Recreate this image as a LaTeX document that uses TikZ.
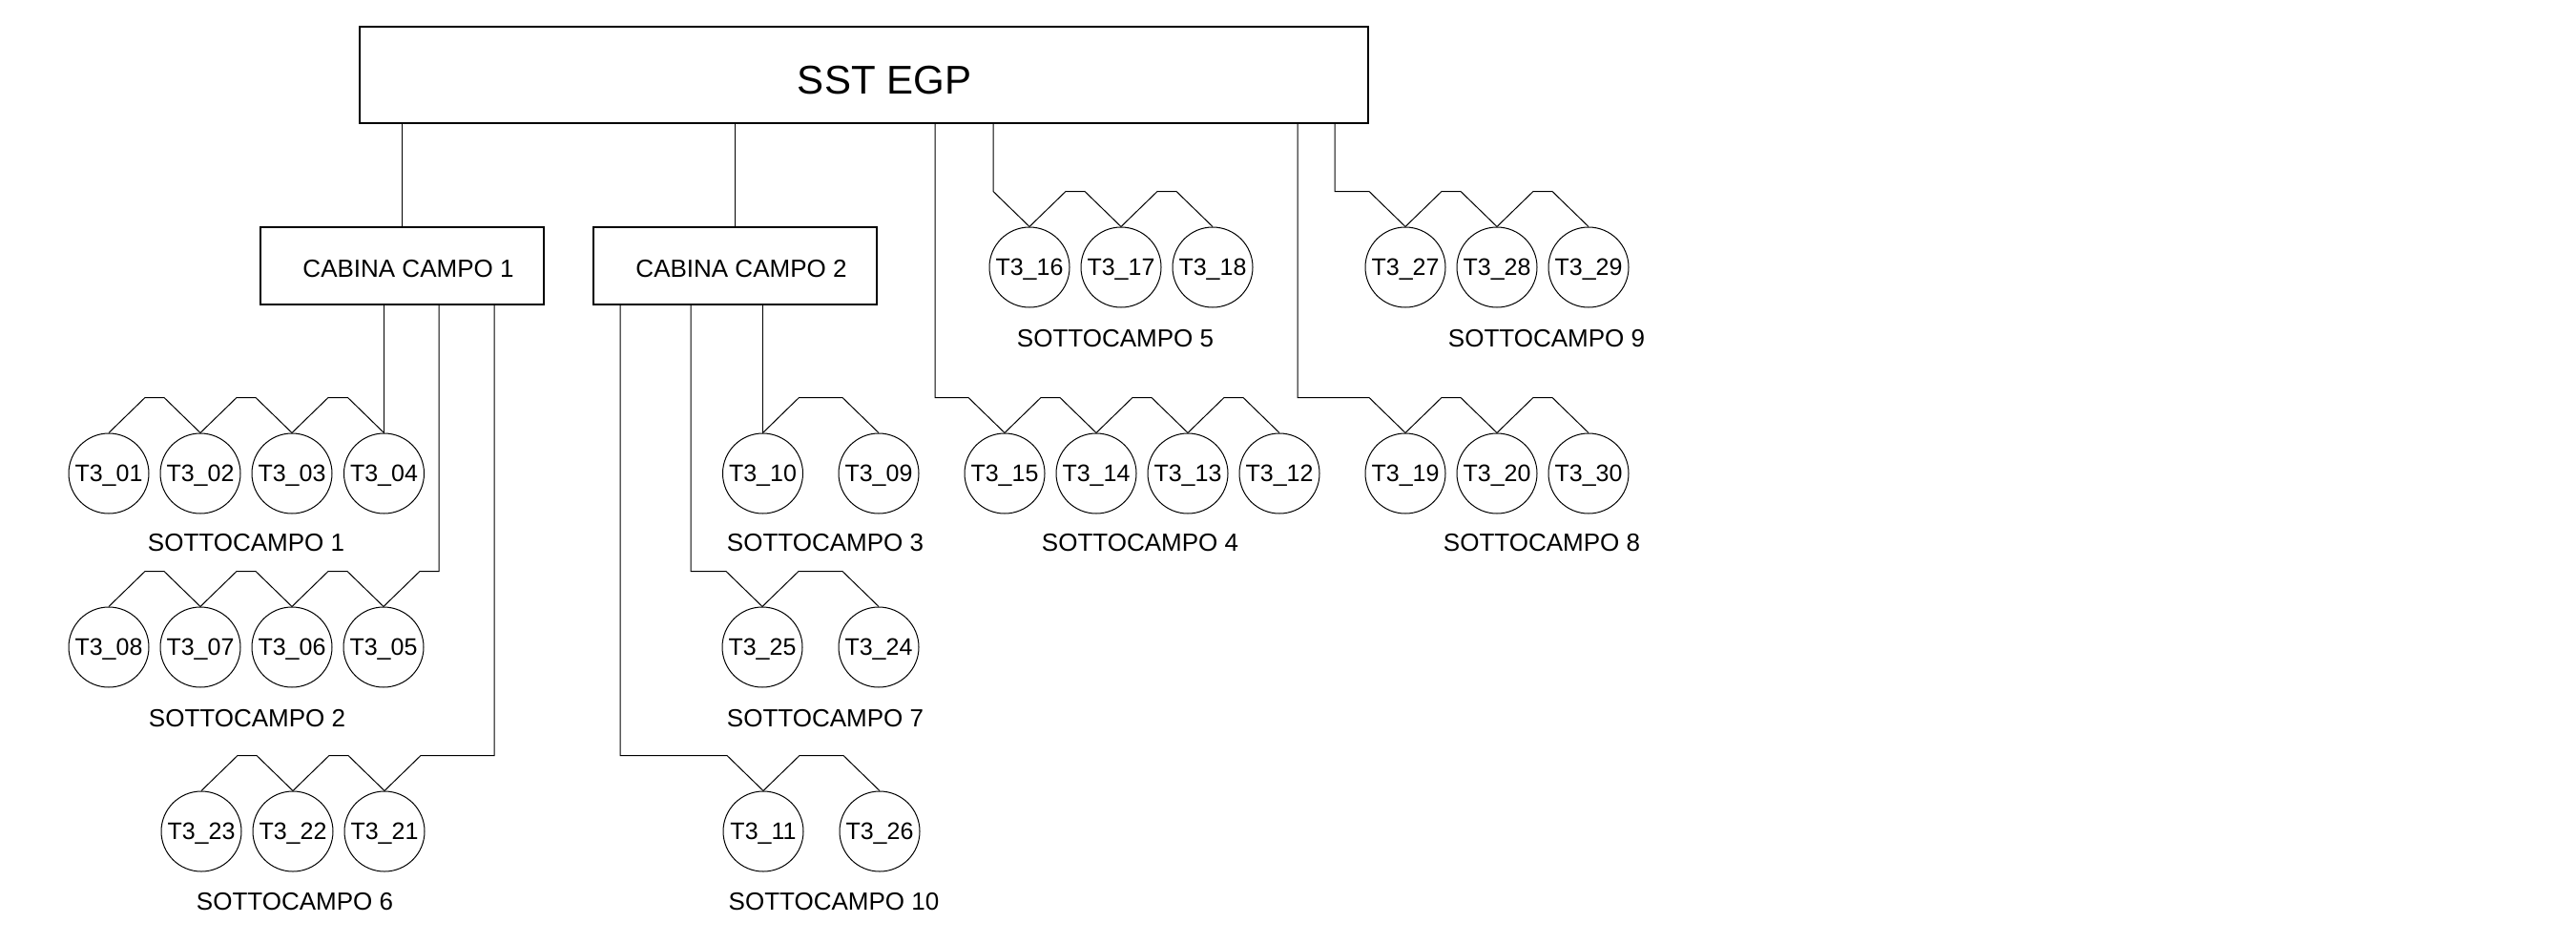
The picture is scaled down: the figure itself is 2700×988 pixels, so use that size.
\documentclass[tikz,border=0pt]{standalone}
\usepackage{fontspec}
\setmainfont{Liberation Sans}
\usetikzlibrary{calc}
\newcommand\zigz[2]{\draw (#1.north) -- ++(38,-37) -- ($(#2.north)+(-38,-37)$) -- (#2.north);}
\begin{document}
\begin{tikzpicture}[x=1pt,y=-1pt,line width=1pt,
  tcirc/.style={draw,circle,minimum size=84pt,inner sep=0pt,font=\fontsize{25}{30}\selectfont,text height=17.9pt,text depth=0pt},
  lbl/.style={inner sep=0pt,font=\fontsize{26}{30}\selectfont,text height=18.6pt,text depth=0pt},
  cab/.style={draw,rectangle,line width=1.3pt,minimum width=297pt,minimum height=81pt,inner sep=0pt,font=\fontsize{26}{30}\selectfont,text height=23.6pt,text depth=0pt},
  mainbox/.style={draw,rectangle,line width=1.3pt,minimum width=1057pt,minimum height=101pt,inner sep=0pt,font=\fontsize{42}{48}\selectfont,text height=39pt,text depth=0pt}]
\useasboundingbox (0,0) rectangle (2700,988);
% boxes
\node[mainbox] (sst) at (905.5,78.5) {\hspace*{43pt}SST EGP};
\node[cab] (c1) at (421.5,278.5) {\hspace*{13pt}CABINA CAMPO 1};
\node[cab] (c2) at (770.5,278.5) {\hspace*{13pt}CABINA CAMPO 2};
% row A
\node[tcirc] (t16) at (1079,280) {T3\_16};
\node[tcirc] (t17) at (1175,280) {T3\_17};
\node[tcirc] (t18) at (1271,280) {T3\_18};
\node[tcirc] (t27) at (1473,280) {T3\_27};
\node[tcirc] (t28) at (1569,280) {T3\_28};
\node[tcirc] (t29) at (1665,280) {T3\_29};
% row B
\node[tcirc] (t01) at (114,496) {T3\_01};
\node[tcirc] (t02) at (210,496) {T3\_02};
\node[tcirc] (t03) at (306,496) {T3\_03};
\node[tcirc] (t04) at (402.5,496) {T3\_04};
\node[tcirc] (t10) at (799.5,496) {T3\_10};
\node[tcirc] (t09) at (921,496) {T3\_09};
\node[tcirc] (t15) at (1053,496) {T3\_15};
\node[tcirc] (t14) at (1149,496) {T3\_14};
\node[tcirc] (t13) at (1245,496) {T3\_13};
\node[tcirc] (t12) at (1341,496) {T3\_12};
\node[tcirc] (t19) at (1473,496) {T3\_19};
\node[tcirc] (t20) at (1569,496) {T3\_20};
\node[tcirc] (t30) at (1665,496) {T3\_30};
% row C
\node[tcirc] (t08) at (114,678) {T3\_08};
\node[tcirc] (t07) at (210,678) {T3\_07};
\node[tcirc] (t06) at (306,678) {T3\_06};
\node[tcirc] (t05) at (402,678) {T3\_05};
\node[tcirc] (t25) at (799,678) {T3\_25};
\node[tcirc] (t24) at (921,678) {T3\_24};
% row D
\node[tcirc] (t23) at (211,871) {T3\_23};
\node[tcirc] (t22) at (307,871) {T3\_22};
\node[tcirc] (t21) at (403,871) {T3\_21};
\node[tcirc] (t11) at (800,871) {T3\_11};
\node[tcirc] (t26) at (922,871) {T3\_26};
% labels
\node[lbl] (s5) at (1169,354) {SOTTOCAMPO 5};
\node[lbl] (s9) at (1621,354) {SOTTOCAMPO 9};
\node[lbl] (s1) at (258,568) {SOTTOCAMPO 1};
\node[lbl] (s3) at (865,568) {SOTTOCAMPO 3};
\node[lbl] (s4) at (1195,568) {SOTTOCAMPO 4};
\node[lbl] (s8) at (1616,568) {SOTTOCAMPO 8};
\node[lbl] (s2) at (259,752) {SOTTOCAMPO 2};
\node[lbl] (s7) at (865,752) {SOTTOCAMPO 7};
\node[lbl] (s6) at (309,944) {SOTTOCAMPO 6};
\node[lbl] (s10) at (874,944) {SOTTOCAMPO 10};
% zigzags
\zigz{t01}{t02}\zigz{t02}{t03}\zigz{t03}{t04}
\zigz{t08}{t07}\zigz{t07}{t06}\zigz{t06}{t05}
\zigz{t23}{t22}\zigz{t22}{t21}
\zigz{t10}{t09}\zigz{t25}{t24}\zigz{t11}{t26}
\zigz{t15}{t14}\zigz{t14}{t13}\zigz{t13}{t12}
\zigz{t16}{t17}\zigz{t17}{t18}
\zigz{t27}{t28}\zigz{t28}{t29}
\zigz{t19}{t20}\zigz{t20}{t30}
% connectors from SST
\draw (c1.north |- sst.south) -- (c1.north);
\draw (c2.north |- sst.south) -- (c2.north);
\coordinate (x15) at (980,0);
\coordinate (x19) at (1360,0);
\coordinate (x27) at (1399,0);
\coordinate (k16) at ($(t16.north)+(-38,-37)$);
\draw (x15 |- sst.south) |- ($(t15.north)+(-38,-37)$) -- (t15.north);
\draw (k16 |- sst.south) -- (k16) -- (t16.north);
\draw (x19 |- sst.south) |- ($(t19.north)+(-38,-37)$) -- (t19.north);
\draw (x27 |- sst.south) |- ($(t27.north)+(-38,-37)$) -- (t27.north);
% connectors from cabina 1
\coordinate (x05) at (460,0);
\coordinate (x21) at (518,0);
\draw (t04.north |- c1.south) -- (t04.north);
\draw (x05 |- c1.south) |- ($(t05.north)+(38,-37)$) -- (t05.north);
\draw (x21 |- c1.south) |- ($(t21.north)+(38,-37)$) -- (t21.north);
% connectors from cabina 2
\coordinate (x25) at (724,0);
\coordinate (x11) at (650,0);
\draw (t10.north |- c2.south) -- (t10.north);
\draw (x25 |- c2.south) |- ($(t25.north)+(-38,-37)$) -- (t25.north);
\draw (x11 |- c2.south) |- ($(t11.north)+(-38,-37)$) -- (t11.north);
\end{tikzpicture}
\end{document}
